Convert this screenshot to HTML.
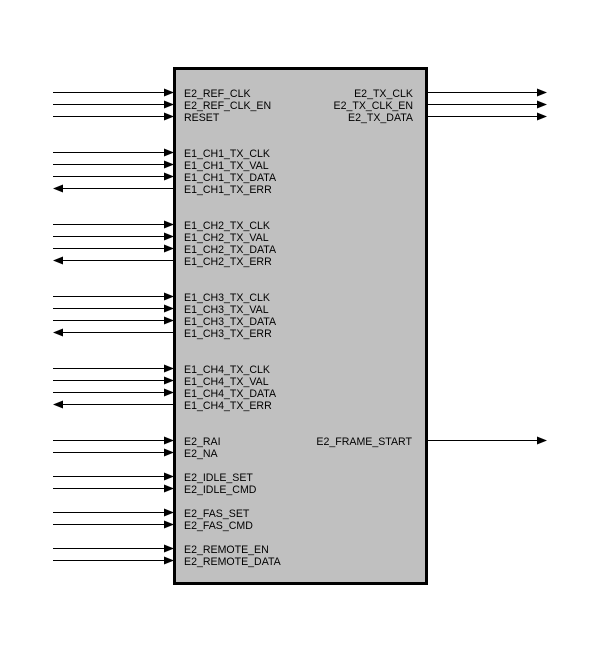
<!DOCTYPE html>
<html><head><meta charset="utf-8"><style>
html,body{margin:0;padding:0;background:#fff;}
svg{display:block}
text{font-family:"Liberation Sans",Arial,sans-serif;font-size:10.6px;fill:#000}
</style></head><body>
<svg width="600" height="650" viewBox="0 0 600 650">
<rect x="174.5" y="68.5" width="252" height="515" fill="#c0c0c0" stroke="#000" stroke-width="3"/>
<g stroke="#000" stroke-width="1">
<path d="M53 92.5H165M53 104.5H165M53 116.5H165
M53 152.5H165M53 164.5H165M53 176.5H165M62 188.5H173
M53 224.5H165M53 236.5H165M53 248.5H165M62 260.5H173
M53 296.5H165M53 308.5H165M53 320.5H165M62 332.5H173
M53 368.5H165M53 380.5H165M53 392.5H165M62 404.5H173
M53 440.5H165M53 452.5H165M53 476.5H165M53 488.5H165
M53 512.5H165M53 524.5H165M53 548.5H165M53 560.5H165
M428 92.5H538M428 104.5H538M428 116.5H538M428 440.5H538"/>
</g>
<g fill="#000">
<path d="M164 88.5L174 92.5L164 96.5Z M164 100.5L174 104.5L164 108.5Z M164 112.5L174 116.5L164 120.5Z
M164 148.5L174 152.5L164 156.5Z M164 160.5L174 164.5L164 168.5Z M164 172.5L174 176.5L164 180.5Z
M164 220.5L174 224.5L164 228.5Z M164 232.5L174 236.5L164 240.5Z M164 244.5L174 248.5L164 252.5Z
M164 292.5L174 296.5L164 300.5Z M164 304.5L174 308.5L164 312.5Z M164 316.5L174 320.5L164 324.5Z
M164 364.5L174 368.5L164 372.5Z M164 376.5L174 380.5L164 384.5Z M164 388.5L174 392.5L164 396.5Z
M164 436.5L174 440.5L164 444.5Z M164 448.5L174 452.5L164 456.5Z M164 472.5L174 476.5L164 480.5Z M164 484.5L174 488.5L164 492.5Z
M164 508.5L174 512.5L164 516.5Z M164 520.5L174 524.5L164 528.5Z M164 544.5L174 548.5L164 552.5Z M164 556.5L174 560.5L164 564.5Z
M537 88.5L547 92.5L537 96.5Z M537 100.5L547 104.5L537 108.5Z M537 112.5L547 116.5L537 120.5Z M537 436.5L547 440.5L537 444.5Z
M63 184.5L53 188.5L63 192.5Z M63 256.5L53 260.5L63 264.5Z M63 328.5L53 332.5L63 336.5Z M63 400.5L53 404.5L63 408.5Z"/>
</g>
<g>
<text x="184" y="97">E2_REF_CLK</text>
<text x="184" y="109">E2_REF_CLK_EN</text>
<text x="184" y="121">RESET</text>
<text x="184" y="157">E1_CH1_TX_CLK</text>
<text x="184" y="169">E1_CH1_TX_VAL</text>
<text x="184" y="181">E1_CH1_TX_DATA</text>
<text x="184" y="193">E1_CH1_TX_ERR</text>
<text x="184" y="229">E1_CH2_TX_CLK</text>
<text x="184" y="241">E1_CH2_TX_VAL</text>
<text x="184" y="253">E1_CH2_TX_DATA</text>
<text x="184" y="265">E1_CH2_TX_ERR</text>
<text x="184" y="301">E1_CH3_TX_CLK</text>
<text x="184" y="313">E1_CH3_TX_VAL</text>
<text x="184" y="325">E1_CH3_TX_DATA</text>
<text x="184" y="337">E1_CH3_TX_ERR</text>
<text x="184" y="373">E1_CH4_TX_CLK</text>
<text x="184" y="385">E1_CH4_TX_VAL</text>
<text x="184" y="397">E1_CH4_TX_DATA</text>
<text x="184" y="409">E1_CH4_TX_ERR</text>
<text x="184" y="445">E2_RAI</text>
<text x="184" y="457">E2_NA</text>
<text x="184" y="481">E2_IDLE_SET</text>
<text x="184" y="493">E2_IDLE_CMD</text>
<text x="184" y="517">E2_FAS_SET</text>
<text x="184" y="529">E2_FAS_CMD</text>
<text x="184" y="553">E2_REMOTE_EN</text>
<text x="184" y="565">E2_REMOTE_DATA</text>
</g>
<g text-anchor="end">
<text x="413" y="97">E2_TX_CLK</text>
<text x="413" y="109">E2_TX_CLK_EN</text>
<text x="413" y="121">E2_TX_DATA</text>
<text x="412" y="445">E2_FRAME_START</text>
</g>
</svg>
</body></html>
